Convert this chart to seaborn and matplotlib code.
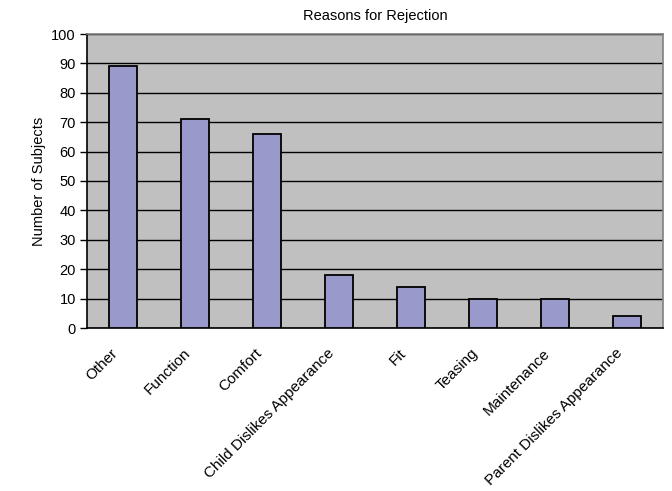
import matplotlib
matplotlib.use("Agg")
import matplotlib.pyplot as plt
import matplotlib.transforms as mtransforms
import seaborn as sns
import pandas as pd
import numpy as np

categories = ["Other", "Function", "Comfort", "Child Dislikes Appearance",
              "Fit", "Teasing", "Maintenance", "Parent Dislikes Appearance"]
subjects = [89, 71, 66, 18, 14, 10, 10, 4]
y_ticks = list(range(0, 101, 10))

sns.set_theme(style="white")
plt.rcParams["font.family"] = ["Liberation Sans", "DejaVu Sans"]
plt.rcParams["text.color"] = "black"
plt.rcParams["axes.labelcolor"] = "black"
plt.rcParams["xtick.color"] = "black"
plt.rcParams["ytick.color"] = "black"

df = pd.DataFrame({"reason": categories, "count": subjects})

fig = plt.figure(figsize=(6.72, 4.91), dpi=100)
ax = fig.add_axes([87 / 672, 1 - 328 / 491, (663 - 87) / 672, (328 - 34) / 491])
ax.set_facecolor("#c0c0c0")

sns.barplot(data=df, x="reason", y="count", ax=ax, color="#9999cc",
            width=0.4, edgecolor="black", linewidth=1.3, saturation=1, zorder=3)

ax.set_ylim(0, 100)
ax.set_xlim(-0.5, len(categories) - 0.5)
ax.set_yticks(y_ticks)
ax.set_yticklabels([str(v) for v in y_ticks], fontsize=10.5)
ax.yaxis.grid(True, color="black", linewidth=1.0, zorder=1)
ax.set_axisbelow(True)

ax.set_xticks(np.arange(len(categories)))
ax.set_xticklabels(categories, rotation=45, ha="right", rotation_mode="anchor",
                   fontsize=11)
ax.tick_params(axis="x", length=0, pad=10)
shift = mtransforms.ScaledTranslation(-12 / 100, -4 / 100, fig.dpi_scale_trans)
for lbl in ax.get_xticklabels():
    lbl.set_transform(lbl.get_transform() + shift)
# boundary ticks between categories
ax.set_xticks(np.arange(len(categories) + 1) - 0.5, minor=True)
ax.tick_params(axis="x", which="minor", length=5, width=1, color="black",
               direction="out")
ax.tick_params(axis="y", length=5, width=1, color="black", direction="out",
               left=True, pad=3)

ax.set_xlabel("")
ax.set_ylabel("Number of Subjects", fontsize=10.5, color="black")
ax.set_title("Reasons for Rejection", fontsize=10.5, pad=10, color="black")

for side in ["left", "bottom"]:
    ax.spines[side].set_color("black")
    ax.spines[side].set_linewidth(1.2)
for side in ["top", "right"]:
    ax.spines[side].set_color("#808080")
    ax.spines[side].set_linewidth(1.2)

fig.savefig("out.png", dpi=100)
